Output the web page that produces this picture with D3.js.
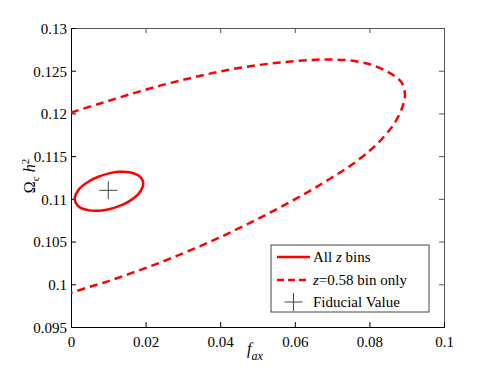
<!DOCTYPE html>
<html>
<head>
<meta charset="utf-8">
<script src="https://cdn.jsdelivr.net/npm/d3@7"></script>
<style>
  body { margin: 0; background: #fff; }
  svg text { font-family: "Liberation Serif", "Times New Roman", "DejaVu Serif", serif; }
</style>
</head>
<body>
<div id="chart"></div>
<script>
// tick values / labels
var xTicks = [0, 0.02, 0.04, 0.06, 0.08, 0.1];
var xTickLabels = ["0", "0.02", "0.04", "0.06", "0.08", "0.1"];
var yTicks = [0.095, 0.1, 0.105, 0.11, 0.115, 0.12, 0.125, 0.13];
var yTickLabels = ["0.095", "0.1", "0.105", "0.11", "0.115", "0.12", "0.125", "0.13"];

// all z bins contour (closed)
var allBins = [
  [0.00099, 0.10998], [0.00214, 0.11111], [0.00483, 0.11206], [0.00751, 0.11262],
  [0.01019, 0.11298], [0.01287, 0.11316], [0.01555, 0.11312], [0.01823, 0.11270],
  [0.01938, 0.11179], [0.01823, 0.11066], [0.01555, 0.10971], [0.01287, 0.10915],
  [0.01019, 0.10879], [0.00751, 0.10861], [0.00483, 0.10865], [0.00214, 0.10907]
];

// z=0.58 bin only contour (visible part)
var singleBin = [
  [0, 0.12011], [0.00777, 0.12116], [0.01582, 0.12224], [0.02386, 0.12325],
  [0.03190, 0.12412], [0.03995, 0.12491], [0.04799, 0.12552], [0.05603, 0.12596],
  [0.06408, 0.12625], [0.06944, 0.12631], [0.07480, 0.12620], [0.08016, 0.12575],
  [0.08418, 0.12503], [0.08686, 0.12432], [0.08874, 0.12356], [0.08954, 0.12210],
  [0.08874, 0.12064], [0.08686, 0.11894], [0.08552, 0.11812], [0.08284, 0.11677],
  [0.08016, 0.11566], [0.07480, 0.11385], [0.06944, 0.11236], [0.06408, 0.11094],
  [0.05871, 0.10963], [0.05335, 0.10838], [0.04799, 0.10719], [0.04263, 0.10605],
  [0.03727, 0.10497], [0.03190, 0.10396], [0.02654, 0.10300], [0.02118, 0.10209],
  [0.01582, 0.10125], [0.01046, 0.10044], [0.00509, 0.09971], [0, 0.09900]
];

var fiducial = [0.01, 0.111];

var legendLabels = ["All z bins", "z=0.58 bin only", "Fiducial Value"];

var W = 491, H = 369;
var margin = {top: 28, right: 47, bottom: 42, left: 71},
    width = W - margin.left - margin.right,
    height = H - margin.top - margin.bottom;

var serif = "Liberation Serif, Times New Roman, DejaVu Serif, serif";

var svg = d3.select("#chart").append("svg")
    .attr("width", W)
    .attr("height", H)
    .attr("font-family", serif);

var g = svg.append("g")
    .attr("transform", "translate(" + margin.left + "," + margin.top + ")");

var x = d3.scaleLinear().domain([0, 0.1]).range([0, width]);
var y = d3.scaleLinear().domain([0.095, 0.13]).range([height, 0]);

g.append("clipPath").attr("id", "clip")
  .append("rect").attr("width", width).attr("height", height);

// top and right box with inward ticks
var topAxis = g.append("g")
    .call(d3.axisTop(x).tickValues(xTicks).tickSize(-5).tickFormat(""));
var rightAxis = g.append("g")
    .attr("transform", "translate(" + width + ",0)")
    .call(d3.axisRight(y).tickValues(yTicks).tickSize(-5).tickFormat(""));
[topAxis, rightAxis].forEach(function(a) {
  a.selectAll("path,line").attr("stroke", "#555");
});

// bottom / left axes
var xAxis = g.append("g")
    .attr("transform", "translate(0," + height + ")")
    .call(d3.axisBottom(x).tickValues(xTicks).tickSize(-5).tickPadding(9)
      .tickFormat(function(d, i) { return xTickLabels[i]; }));
var yAxis = g.append("g")
    .call(d3.axisLeft(y).tickValues(yTicks).tickSize(-5).tickPadding(4)
      .tickFormat(function(d, i) { return yTickLabels[i]; }));
[xAxis, yAxis].forEach(function(a) {
  a.attr("font-family", serif);
  a.selectAll("path,line").attr("stroke", "#000");
  a.selectAll("text").attr("font-size", 15).attr("fill", "#000");
});
yAxis.selectAll("text").attr("dy", "0.36em");

var line = d3.line()
    .x(function(d) { return x(d[0]); })
    .y(function(d) { return y(d[1]); });

g.append("path")
    .datum(singleBin)
    .attr("clip-path", "url(#clip)")
    .attr("fill", "none")
    .attr("stroke", "#ff0000")
    .attr("stroke-width", 2.5)
    .attr("stroke-dasharray", "8,5")
    .attr("d", line.curve(d3.curveCatmullRom));

g.append("path")
    .datum(allBins)
    .attr("fill", "none")
    .attr("stroke", "#ff0000")
    .attr("stroke-width", 2.5)
    .attr("d", line.curve(d3.curveCatmullRomClosed));

// fiducial marker
var plus = 9;
function drawPlus(sel, cx, cy) {
  sel.append("path")
    .attr("d", "M" + (cx - plus) + "," + cy + "H" + (cx + plus) +
               "M" + cx + "," + (cy - plus) + "V" + (cy + plus))
    .attr("stroke", "#444")
    .attr("stroke-width", 1)
    .attr("fill", "none");
}
drawPlus(g, x(fiducial[0]), y(fiducial[1]));

// axis labels
var ylab = svg.append("text")
    .attr("transform", "translate(35,176) rotate(-90)")
    .attr("text-anchor", "middle")
    .attr("font-size", 16);
ylab.append("tspan").text("\u03A9");
ylab.append("tspan").attr("font-size", 11).attr("dy", 4).text("c");
ylab.append("tspan").attr("font-style", "italic").attr("dy", -4).text(" h");
ylab.append("tspan").attr("font-size", 11).attr("dy", -6).text("2");

var xlab = svg.append("text")
    .attr("x", 247).attr("y", 354)
    .attr("font-size", 16)
    .attr("font-style", "italic");
xlab.append("tspan").text("f");
xlab.append("tspan").attr("font-size", 12).attr("dy", 6).text("ax");

// legend
var lg = svg.append("g").attr("transform", "translate(271,245)");
lg.append("rect")
    .attr("width", 158).attr("height", 67)
    .attr("fill", "#fff")
    .attr("stroke", "#444")
    .attr("stroke-width", 1);

var rowY = [12, 35, 57];
lg.append("line").attr("x1", 6).attr("x2", 39).attr("y1", rowY[0]).attr("y2", rowY[0])
  .attr("stroke", "#ff0000").attr("stroke-width", 2.5);
lg.append("line").attr("x1", 6).attr("x2", 39).attr("y1", rowY[1]).attr("y2", rowY[1])
  .attr("stroke", "#ff0000").attr("stroke-width", 2.5).attr("stroke-dasharray", "7,4");
drawPlus(lg, 22.5, rowY[2]);

var t0 = lg.append("text").attr("x", 42).attr("y", rowY[0]).attr("dy", "0.33em").attr("font-size", 15);
t0.append("tspan").text("All ");
t0.append("tspan").attr("font-style", "italic").text("z");
t0.append("tspan").text(" bins");

var t1 = lg.append("text").attr("x", 42).attr("y", rowY[1]).attr("dy", "0.33em").attr("font-size", 15);
t1.append("tspan").attr("font-style", "italic").text("z");
t1.append("tspan").text("=0.58 bin only");

lg.append("text").attr("x", 42).attr("y", rowY[2]).attr("dy", "0.33em").attr("font-size", 15)
  .text(legendLabels[2]);
</script>
</body>
</html>
